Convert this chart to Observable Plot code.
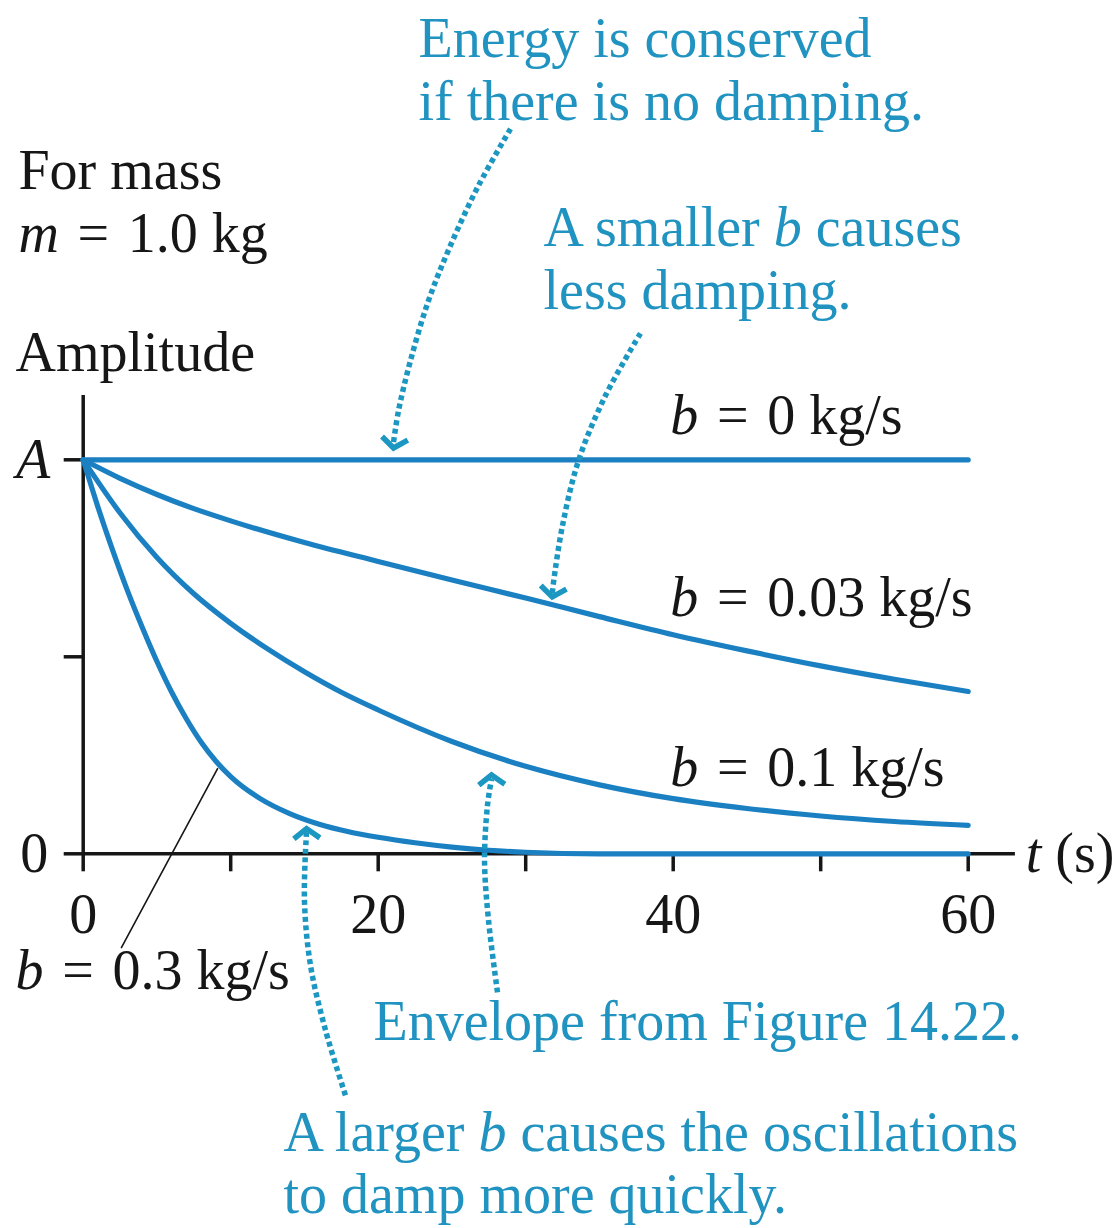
<!DOCTYPE html>
<html>
<head>
<meta charset="utf-8">
<script src="https://cdn.jsdelivr.net/npm/d3@7"></script>
<script src="https://cdn.jsdelivr.net/npm/@observablehq/plot@0.6"></script>
<style>
  body { margin: 0; background: #fff; }
</style>
</head>
<body>
<div id="chart"></div>
<script>
// Amplitude envelopes (fraction of A) versus time t (s) for a 1.0 kg oscillator.
const tB0 = [0, 60];
const ampB0 = [1, 1];

const tB003 = [0, 2.5, 5, 7.5, 10, 15, 20, 25, 30, 35, 40, 45, 50, 55, 60];
const ampB003 = [1.0, 0.953, 0.912, 0.876, 0.845, 0.79, 0.742, 0.695, 0.649, 0.602, 0.556, 0.515, 0.477, 0.443, 0.412];

const tB01 = [0, 2.5, 5, 7.5, 10, 12.5, 15, 17.5, 20, 25, 30, 35, 40, 45, 50, 55, 60];
const ampB01 = [1.0, 0.865, 0.752, 0.66, 0.585, 0.52, 0.462, 0.41, 0.365, 0.285, 0.222, 0.175, 0.14, 0.115, 0.096, 0.082, 0.072];

const tB03 = [0, 1, 2, 3, 4, 5, 6, 7, 8, 9, 10, 12, 14, 16, 18, 20, 22.5, 25, 27.5, 30, 35, 40, 50, 60];
const ampB03 = [1.0, 0.88, 0.77, 0.668, 0.575, 0.488, 0.41, 0.342, 0.283, 0.235, 0.196, 0.14, 0.102, 0.075, 0.056, 0.042, 0.028, 0.017, 0.009, 0.004, 0, 0, 0, 0];

const xTicks = [0, 10, 20, 30, 40, 50, 60];
const xTickLabels = ["0", "", "20", "", "40", "", "60"];
const yTicks = [0, 0.5];
const yTickLabels = ["0", ""];
const yTopTick = 1;
const yTopLabel = "_A_";

// Curve labels and side notes; _x_ marks an italic run.
const EQ = "\u2004=\u2004";
const curveLabels = [
  {t: 39.8, a: 1.112, text: `_b_${EQ}0 kg/s`},
  {t: 39.8, a: 0.648, text: `_b_${EQ}0.03 kg/s`},
  {t: 39.8, a: 0.217, text: `_b_${EQ}0.1 kg/s`},
  {t: -4.59, a: -0.297, text: `_b_${EQ}0.3 kg/s`}
];
const sideLabels = [
  {t: -4.39, a: 1.734, text: "For mass"},
  {t: -4.39, a: 1.574, text: `_m_${EQ}1.0 kg`},
  {t: -4.59, a: 1.272, text: "Amplitude"},
  {t: 63.9, a: 0, text: "_t_ (s)"}
];
const notes = [
  {t: 22.73, a: 2.069, text: "Energy is conserved"},
  {t: 22.73, a: 1.909, text: "if there is no damping."},
  {t: 31.21, a: 1.587, text: "A smaller _b_ causes"},
  {t: 31.21, a: 1.427, text: "less damping."},
  {t: 19.68, a: -0.428, text: "Envelope from Figure 14.22."},
  {t: 13.58, a: -0.71, text: "A larger _b_ causes the oscillations"},
  {t: 13.58, a: -0.867, text: "to damp more quickly."}
];

// Dotted pointer paths from each note to its curve, and their heads.
const pointers = [
  {id: "energy", t: [28.97, 26.8, 24.9, 23.41, 22.19, 21.38, 21.04], a: [1.84, 1.696, 1.544, 1.404, 1.252, 1.125, 1.045]},
  {id: "smaller", t: [37.78, 35.41, 33.58, 32.5, 31.89, 31.8], a: [1.321, 1.163, 0.998, 0.834, 0.69, 0.66]},
  {id: "envelope", t: [28.09, 27.48, 27.21, 27.41, 27.68], a: [-0.352, -0.169, -0.017, 0.123, 0.19]},
  {id: "larger", t: [17.78, 16.43, 15.41, 15.0, 15.14], a: [-0.613, -0.448, -0.283, -0.118, 0.055]}
];
const pointerHeads = [
  {t: 21.04, a: 1.03, rotate: 8},
  {t: 31.8, a: 0.652, rotate: 8},
  {t: 27.68, a: 0.2, rotate: 178},
  {t: 15.14, a: 0.064, rotate: 178}
];
const leader = {t: [9.11, 2.59], a: [0.216, -0.238]};

const curves = [
  {b: "0", t: tB0, a: ampB0},
  {b: "0.03", t: tB003, a: ampB003},
  {b: "0.1", t: tB01, a: ampB01},
  {b: "0.3", t: tB03, a: ampB03}
];
const curveRows = curves.flatMap(c => c.t.map((t, i) => ({b: c.b, t, a: c.a[i]})));
const pointerRows = pointers.flatMap(p => p.t.map((t, i) => ({id: p.id, t, a: p.a[i]})));
const leaderRows = leader.t.map((t, i) => ({t, a: leader.a[i]}));

// Open chevron whose tip sits on the anchor point, opening upward (points down).
const chevron = {
  draw(context, size) {
    const s = Math.sqrt(size / Math.PI);
    context.moveTo(-s, -0.75 * s);
    context.lineTo(0, 0);
    context.lineTo(s, -0.75 * s);
  }
};

const INK = "#161616";
const CURVE = "#1b80c2";
const NOTE = "#2193c0";
const POINTER = "#1c97c2";
const FS = 56;

const chart = Plot.plot({
  width: 1115,
  height: 1228,
  marginLeft: 82.7,
  marginRight: 147.3,
  marginTop: 459.3,
  marginBottom: 374.7,
  x: {domain: [0, 60]},
  y: {domain: [0, 1]},
  style: {fontFamily: "'Liberation Serif', 'Times New Roman', serif", background: "#fff"},
  marks: [
    Plot.ruleX([0], {y1: 0, y2: 1.163, stroke: INK, strokeWidth: 3.5}),
    Plot.ruleY([0], {x1: 0, x2: 63.2, stroke: INK, strokeWidth: 3.5}),
    Plot.axisX({
      ticks: xTicks, tickSize: 18, tickPadding: 21, strokeWidth: 3.5, stroke: INK, fill: INK,
      tickFormat: d => xTickLabels[xTicks.indexOf(d)], fontSize: FS, label: null
    }),
    Plot.axisY({
      ticks: yTicks, tickSize: 19, tickPadding: 16, strokeWidth: 3.5, stroke: INK, fill: INK,
      tickFormat: d => yTickLabels[yTicks.indexOf(d)], fontSize: FS, label: null
    }),
    Plot.axisY({
      ticks: [yTopTick], tickSize: 19, tickPadding: 14, strokeWidth: 3.5, stroke: INK, fill: INK,
      tickFormat: () => yTopLabel, fontSize: FS, label: null
    }),
    Plot.line(curveRows, {x: "t", y: "a", z: "b", stroke: CURVE, strokeWidth: 5.2, curve: "monotone-x"}),
    Plot.line(leaderRows, {x: "t", y: "a", stroke: INK, strokeWidth: 1.6}),
    Plot.line(pointerRows, {
      x: "t", y: "a", z: "id", stroke: POINTER, strokeWidth: 5.5,
      strokeDasharray: "5 3.5", strokeLinecap: "butt", curve: "catmull-rom"
    }),
    Plot.dot(pointerHeads, {
      x: "t", y: "a", rotate: "rotate", symbol: chevron, r: 13,
      fill: "none", stroke: POINTER, strokeWidth: 5.5, strokeLinejoin: "miter"
    }),
    Plot.text(curveLabels, {x: "t", y: "a", text: "text", textAnchor: "start", fontSize: FS, fill: INK}),
    Plot.text(sideLabels, {x: "t", y: "a", text: "text", textAnchor: "start", fontSize: FS, fill: INK}),
    Plot.text(notes, {x: "t", y: "a", text: "text", textAnchor: "start", fontSize: FS, fill: NOTE})
  ]
});

// Turn _x_ runs into italic tspans.
const walker = document.createTreeWalker(chart, NodeFilter.SHOW_TEXT);
const textNodes = [];
while (walker.nextNode()) if (walker.currentNode.nodeValue.includes("_")) textNodes.push(walker.currentNode);
for (const node of textNodes) {
  const parts = node.nodeValue.split("_");
  const frag = document.createDocumentFragment();
  parts.forEach((part, i) => {
    if (!part) return;
    const span = document.createElementNS("http://www.w3.org/2000/svg", "tspan");
    if (i % 2 === 1) span.setAttribute("font-style", "italic");
    span.textContent = part;
    frag.appendChild(span);
  });
  node.parentNode.replaceChild(frag, node);
}

document.getElementById("chart").appendChild(chart);
</script>
</body>
</html>
